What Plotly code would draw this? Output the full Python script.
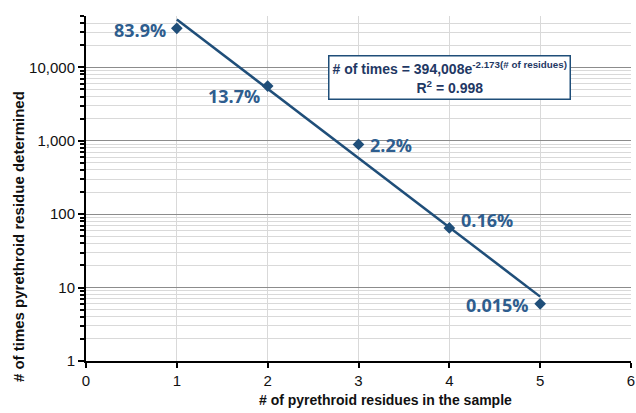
import numpy as np
import plotly.graph_objects as go

residues = [1, 2, 3, 4, 5]
times = [34000, 5550, 890, 65, 6]
pct_labels = ["83.9%", "13.7%", "2.2%", "0.16%", "0.015%"]

fit_a = 394008
fit_b = -2.173
fit_r2 = 0.998

y_tickvals = [1, 10, 100, 1000, 10000]
y_ticktext = ["1", "10", "100", "1,000", "10,000"]
x_tickvals = [0, 1, 2, 3, 4, 5, 6]

navy = "#1F4E79"
label_col = "#2E5D8E"

fit_x = np.linspace(min(residues), max(residues), 20)
fit_y = fit_a * np.exp(fit_b * fit_x)

minor_vals = []
for d in [1, 10, 100, 1000, 10000]:
    for m in range(2, 10):
        if d * m <= 50000:
            minor_vals.append(d * m)

fig = go.Figure()
fig.add_trace(go.Scatter(x=fit_x, y=fit_y, mode="lines",
                         line=dict(color=navy, width=2.5), hoverinfo="skip",
                         showlegend=False))
fig.add_trace(go.Scatter(x=residues, y=times, mode="markers",
                         marker=dict(symbol="diamond", size=9, color=navy),
                         showlegend=False))

# (xanchor, xshift, yshift) per label
placements = [("right", -9, -2), ("right", -6, -10), ("left", 9, -1),
              ("left", 10, 8), ("right", -9, -1)]
for xv, yv, t, (anc, xs, ys) in zip(residues, times, pct_labels, placements):
    fig.add_annotation(x=xv, y=np.log10(yv), text="<b>" + t + "</b>", showarrow=False,
                       xanchor=anc, yanchor="middle", xshift=xs, yshift=ys,
                       font=dict(family="Open Sans", size=18, color=label_col))

fig.add_annotation(
    x=0.667, y=0.823, xref="paper", yref="paper", xanchor="center", yanchor="middle",
    text=("<b># of times = {:,}e<sup>{}(# of residues)</sup></b><br>"
          "<b>R<sup>2</sup> = {}</b>").format(fit_a, fit_b, fit_r2),
    showarrow=False, align="center",
    font=dict(family="Liberation Sans", size=14, color="#1F3864"),
    bgcolor="white", bordercolor=navy, borderwidth=1.5, borderpad=3)

fig.add_annotation(x=0.549, y=-0.113, xref="paper", yref="paper",
                   xanchor="center", yanchor="middle",
                   text="<b># of pyrethroid residues in the sample</b>", showarrow=False,
                   font=dict(size=14, family="Liberation Sans", color="#111"))
fig.add_annotation(x=-0.1248, y=0.362, xref="paper", yref="paper", textangle=-90,
                   xanchor="center", yanchor="middle",
                   text="<b># of times pyrethroid residue determined</b>", showarrow=False,
                   font=dict(size=15, family="Liberation Sans", color="#111"))

fig.update_layout(
    width=636, height=413,
    margin=dict(l=86, r=5, t=16, b=52),
    paper_bgcolor="white", plot_bgcolor="white",
    font=dict(family="Liberation Sans", color="#111111"),
)
fig.update_xaxes(range=[0, 6], tickvals=x_tickvals, showgrid=True, gridcolor="#D9D9D9",
                 gridwidth=1, showline=True, linecolor="black", linewidth=2,
                 ticks="outside", ticklen=5, tickwidth=2, tickcolor="black",
                 tickfont=dict(size=15, family="Liberation Sans", color="#111"),
                 automargin=False, zeroline=False)
fig.update_yaxes(type="log", range=[0, np.log10(50000)], tickvals=y_tickvals,
                 ticktext=y_ticktext, showgrid=True, gridcolor="#8C8C8C", gridwidth=1,
                 showline=True, linecolor="black", linewidth=2,
                 ticks="outside", ticklen=6, tickwidth=2, tickcolor="black",
                 tickfont=dict(size=15, family="Liberation Sans", color="#111"),
                 minor=dict(tickvals=minor_vals, showgrid=True, gridcolor="#D9D9D9",
                            gridwidth=1, ticks="outside", ticklen=4, tickcolor="black"),
                 automargin=False, zeroline=False)
fig.write_html("out.html", config={"displayModeBar": False},
               post_script="document.body.style.margin='0';")
